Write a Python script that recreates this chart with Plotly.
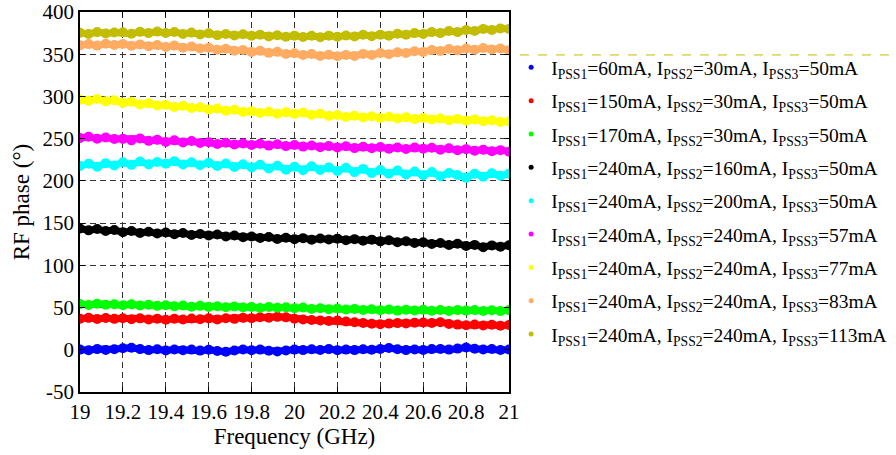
import numpy as np
import plotly.graph_objects as go

# Frequency sweep, 19-21 GHz in 0.04 GHz steps
freq = np.round(np.linspace(19.0, 21.0, 51), 2)

phase_60 = [0.2, -0.6, 0.8, -0.2, 0.6, 1.8, 2.4, 0.8, -0.4, 0.6,
            -0.8, 0.4, -0.6, 0.2, -1.0, 0.0, -1.4, -2.4, -0.8, 0.4,
            -0.6, 0.2, -1.2, -2.0, -0.8, 0.2, -0.4, 0.6, -0.2, 0.8,
            -0.6, 0.2, -0.4, 0.6, 0.0, 1.0, 2.2, 0.6, -0.4, 0.4,
            -0.2, 0.8, 1.0, 0.2, 1.4, 2.6, 1.2, 0.4, 1.0, -0.2, 0.4]
phase_150 = [36.8, 37.8, 36.4, 37.6, 36.6, 37.4, 36.2, 37.2, 35.8, 36.8,
             35.6, 36.8, 35.8, 37.0, 36.2, 37.2, 36.0, 37.4, 36.6, 37.8,
             37.4, 38.6, 38.0, 39.0, 38.4, 36.8, 35.8, 35.2, 34.6, 34.2,
             34.6, 33.4, 32.6, 31.8, 30.8, 30.2, 31.0, 31.6, 31.2, 32.0,
             32.4, 31.8, 32.6, 30.6, 29.8, 29.0, 29.8, 28.8, 29.6, 28.6, 29.4]
phase_170 = [54.2, 53.0, 54.6, 53.4, 54.0, 52.8, 53.8, 52.4, 53.4, 52.0,
             52.8, 51.6, 52.4, 51.0, 52.0, 50.8, 51.6, 50.4, 51.2, 50.0,
             50.8, 49.6, 50.6, 49.8, 50.4, 49.2, 50.0, 48.4, 49.2, 48.0,
             48.8, 47.6, 48.4, 47.2, 48.0, 46.8, 47.6, 46.4, 47.4, 46.6,
             47.4, 46.2, 47.2, 46.0, 47.0, 46.4, 47.2, 46.0, 46.8, 45.8, 47.0]
phase_240_160 = [143.6, 141.4, 143.0, 140.6, 141.8, 139.2, 140.6, 138.4, 139.8, 137.6,
                 138.8, 136.8, 138.2, 136.0, 137.2, 135.4, 136.6, 134.2, 135.4, 133.4,
                 134.2, 132.4, 133.6, 131.2, 132.6, 130.8, 132.2, 130.4, 131.8, 130.6,
                 131.6, 129.8, 131.0, 129.2, 130.4, 128.4, 129.8, 127.4, 128.6, 126.4,
                 127.2, 125.2, 126.4, 124.0, 125.6, 123.0, 124.2, 121.4, 123.6, 122.0, 123.8]
phase_240_200 = [217.6, 220.4, 216.8, 221.0, 218.2, 222.0, 219.0, 223.0, 219.6, 222.4,
                 220.2, 223.4, 219.4, 222.0, 218.6, 221.4, 217.6, 220.6, 216.4, 219.8,
                 216.0, 219.2, 214.6, 218.0, 213.2, 216.8, 212.6, 217.4, 213.0, 216.0,
                 211.8, 215.6, 210.4, 214.2, 209.2, 212.8, 208.4, 212.2, 207.6, 211.0,
                 206.8, 210.6, 205.4, 209.4, 207.0, 203.8, 208.6, 205.0, 209.0, 206.0, 208.4]
phase_57 = [250.8, 252.2, 250.0, 251.4, 249.6, 249.8, 248.0, 250.2, 247.4, 248.6,
            246.2, 248.0, 245.6, 247.2, 245.0, 245.8, 243.6, 245.2, 243.0, 244.4,
            242.6, 244.0, 241.8, 243.4, 241.2, 242.6, 240.6, 242.0, 239.8, 241.2,
            239.6, 241.0, 238.8, 240.4, 238.6, 240.0, 238.2, 239.6, 237.8, 239.4,
            238.0, 239.2, 237.0, 238.6, 236.4, 237.6, 235.8, 237.0, 235.0, 236.4, 234.6]
phase_77 = [296.2, 294.8, 297.0, 294.2, 295.6, 292.4, 293.8, 290.6, 292.0, 289.4,
            290.2, 287.6, 289.0, 286.4, 287.2, 284.6, 285.8, 283.0, 284.2, 281.6,
            282.6, 280.4, 281.8, 279.6, 281.2, 279.4, 281.0, 278.2, 279.6, 276.8,
            278.0, 275.6, 277.2, 275.0, 276.6, 274.4, 276.0, 273.8, 275.4, 273.2,
            274.6, 272.6, 274.0, 271.8, 273.4, 271.2, 272.8, 270.6, 271.8, 269.8, 270.4]
phase_83 = [360.5, 362.0, 360.2, 362.4, 361.0, 362.2, 360.0, 361.6, 359.4, 360.8,
            358.6, 360.2, 357.8, 359.0, 356.8, 357.6, 355.2, 356.4, 354.2, 355.0,
            352.6, 354.0, 351.6, 352.8, 350.2, 351.2, 349.0, 350.2, 347.8, 349.4,
            347.6, 349.2, 348.0, 350.4, 349.2, 351.4, 350.0, 352.2, 351.4, 353.6,
            352.6, 355.0, 353.8, 356.2, 354.6, 356.8, 355.2, 357.4, 355.6, 356.8, 354.8]
phase_113 = [375.5, 374.0, 376.2, 374.5, 375.8, 376.0, 374.2, 376.5, 375.0, 376.8,
             375.2, 376.4, 374.0, 375.6, 373.5, 374.8, 372.6, 374.0, 372.2, 373.6,
             371.8, 373.2, 371.0, 372.5, 370.6, 372.0, 370.4, 371.8, 370.2, 372.0,
             370.6, 372.2, 371.0, 373.0, 371.4, 373.2, 372.0, 374.2, 373.0, 375.0,
             374.0, 376.2, 375.0, 377.4, 376.2, 378.6, 377.4, 380.0, 378.8, 380.6, 379.8]

series_labels = [
    "I<sub>PSS1</sub>=60mA, I<sub>PSS2</sub>=30mA, I<sub>PSS3</sub>=50mA",
    "I<sub>PSS1</sub>=150mA, I<sub>PSS2</sub>=30mA, I<sub>PSS3</sub>=50mA",
    "I<sub>PSS1</sub>=170mA, I<sub>PSS2</sub>=30mA, I<sub>PSS3</sub>=50mA",
    "I<sub>PSS1</sub>=240mA, I<sub>PSS2</sub>=160mA, I<sub>PSS3</sub>=50mA",
    "I<sub>PSS1</sub>=240mA, I<sub>PSS2</sub>=200mA, I<sub>PSS3</sub>=50mA",
    "I<sub>PSS1</sub>=240mA, I<sub>PSS2</sub>=240mA, I<sub>PSS3</sub>=57mA",
    "I<sub>PSS1</sub>=240mA, I<sub>PSS2</sub>=240mA, I<sub>PSS3</sub>=77mA",
    "I<sub>PSS1</sub>=240mA, I<sub>PSS2</sub>=240mA, I<sub>PSS3</sub>=83mA",
    "I<sub>PSS1</sub>=240mA, I<sub>PSS2</sub>=240mA, I<sub>PSS3</sub>=113mA",
]
series_values = [phase_60, phase_150, phase_170, phase_240_160, phase_240_200,
                 phase_57, phase_77, phase_83, phase_113]
series_colors = ["#0000ff", "#ff0000", "#00ff00", "#000000", "#00ffff",
                 "#ff00ff", "#ffff00", "#ffab62", "#c2bd00"]

x_ticks = [19.0, 19.2, 19.4, 19.6, 19.8, 20.0, 20.2, 20.4, 20.6, 20.8, 21.0]
x_ticktext = ["19", "19.2", "19.4", "19.6", "19.8", "20", "20.2", "20.4", "20.6", "20.8", "21"]
y_ticks = [-50, 0, 50, 100, 150, 200, 250, 300, 350, 400]
y_ticktext = ["-50", "0", "50", "100", "150", "200", "250", "300", "350", "400"]

FONT = "Times New Roman"

fig = go.Figure()

# measured curves
for vals, col in zip(series_values, series_colors):
    fig.add_trace(go.Scatter(
        x=freq, y=vals, mode="lines+markers",
        line=dict(color=col, width=7),
        marker=dict(color=col, size=10),
        showlegend=False, hoverinfo="skip",
    ))

# legend entries (small dots)
for i, (lab, col) in enumerate(zip(series_labels, series_colors)):
    fig.add_trace(go.Scatter(
        x=[None], y=[None], mode="markers", name=lab,
        marker=dict(color=col, size=5),
        legendgroup=f"g{i}",
    ))

axis_common = dict(
    showline=True, linecolor="black", linewidth=1.5, mirror="ticks",
    ticks="inside", ticklen=5, tickcolor="black",
    showgrid=True, gridcolor="#333333", gridwidth=1, griddash="6px,4px",
    zeroline=False, automargin=False, ticklabeloverflow="allow",
    tickfont=dict(family=FONT, size=21, color="black"),
)

fig.update_xaxes(
    range=[19, 21], tickvals=x_ticks, ticktext=x_ticktext,
    title=dict(text="Frequency (GHz)", font=dict(family=FONT, size=23, color="black"), standoff=4),
    **axis_common,
)
fig.update_yaxes(
    range=[-50, 400], tickvals=y_ticks, ticktext=y_ticktext,
    title=dict(text="RF phase (°)", font=dict(family=FONT, size=23, color="black"), standoff=6),
    **axis_common,
)

# dashed rule above the legend
fig.add_shape(type="line", xref="paper", yref="paper",
              x0=1.0256, x1=1.893, y0=0.887, y1=0.887,
              line=dict(color="#c2bd00", width=1, dash="dash"))

fig.update_layout(
    width=896, height=455,
    margin=dict(l=80, r=387, t=12, b=63, autoexpand=False),
    plot_bgcolor="white", paper_bgcolor="white",
    legend=dict(
        x=1.005, y=0.905, xanchor="left", yanchor="top",
        font=dict(family=FONT, size=19.5, color="black"),
        bgcolor="rgba(0,0,0,0)", tracegroupgap=5,
        itemsizing="trace",
    ),
)

fig.write_html("out.html")
